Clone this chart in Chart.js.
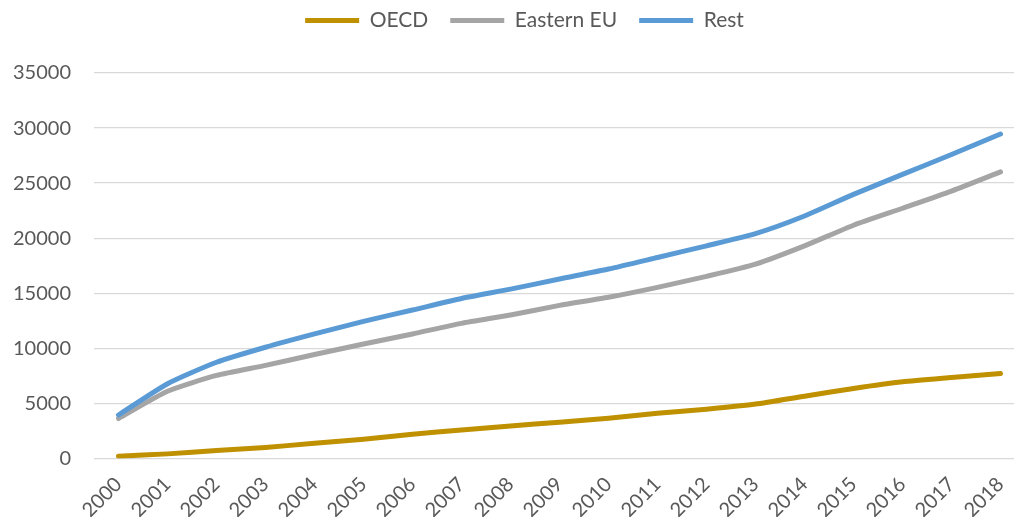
<!DOCTYPE html>
<html>
<head>
<meta charset="utf-8">
<script src="https://cdn.jsdelivr.net/npm/chart.js@4/dist/chart.umd.min.js"></script>
<style>
  html, body { margin: 0; padding: 0; background: #fff; overflow: hidden; }
  #wrap { width: 1050px; height: 517px; }
</style>
</head>
<body>
<div id="wrap"><canvas id="c" width="1050" height="517"></canvas></div>
<script>
// Years on the category axis
const years = ['2000','2001','2002','2003','2004','2005','2006','2007','2008','2009',
               '2010','2011','2012','2013','2014','2015','2016','2017','2018'];

// Series values
const oecd      = [200, 420, 720, 1000, 1390, 1750, 2200, 2590, 2950, 3300,
                   3650, 4100, 4480, 4940, 5660, 6360, 6960, 7350, 7720];
const easternEU = [3630, 6100, 7540, 8450, 9440, 10400, 11310, 12270, 13030, 13900,
                   14640, 15540, 16540, 17650, 19310, 21180, 22720, 24280, 26020];
const rest      = [3950, 6790, 8740, 10100, 11310, 12450, 13480, 14530, 15375, 16300,
                   17200, 18250, 19310, 20420, 22020, 23980, 25790, 27600, 29460];

// Value axis ticks
const yTicks = [0, 5000, 10000, 15000, 20000, 25000, 30000, 35000];

const FONT = 'Lato, "Open Sans", sans-serif';
const TEXT = '#595959';
const GRID = '#d9d9d9';

function series(label, data, color, order) {
  return {
    label, data, order,
    borderColor: color,
    backgroundColor: color,
    borderWidth: 5,
    borderCapStyle: 'round',
    borderJoinStyle: 'round',
    pointRadius: 0,
    pointHoverRadius: 0,
    pointStyle: 'line',
    tension: 0.2,
    fill: false
  };
}

// Leaves extra room under the legend row and nudges the row to the right
const legendGap = {
  id: 'legendGap',
  beforeLayout(chart) {
    const lg = chart.legend;
    if (lg && !lg._gapWrapped) {
      const fit = lg.fit.bind(lg);
      lg.fit = function () { fit(); this.height += 32; };
      const draw = lg.draw.bind(lg);
      lg.draw = function () {
        const ctx = this.ctx;
        ctx.save();
        ctx.translate(12, 0);
        draw();
        ctx.restore();
      };
      lg._gapWrapped = true;
    }
  }
};

new Chart(document.getElementById('c'), {
  type: 'line',
  data: {
    labels: years,
    datasets: [
      series('OECD', oecd, '#bf9000', 3),
      series('Eastern EU', easternEU, '#a5a5a5', 2),
      series('Rest', rest, '#5b9bd5', 1)
    ]
  },
  plugins: [legendGap],
  options: {
    responsive: false,
    animation: false,
    devicePixelRatio: 1,
    layout: { padding: { top: -12, left: 0, right: 25, bottom: 0 } },
    plugins: {
      legend: {
        position: 'top',
        labels: {
          usePointStyle: true,
          pointStyleWidth: 54,
          padding: 22,
          color: TEXT,
          font: { family: FONT, size: 21 },
          sort: (a, b) => a.datasetIndex - b.datasetIndex
        }
      },
      tooltip: { enabled: false }
    },
    scales: {
      x: {
        offset: true,
        grid: { display: false },
        border: { display: false },
        afterFit: (s) => { s.height = 58.5; },
        ticks: {
          autoSkip: false,
          minRotation: 45,
          maxRotation: 45,
          padding: 6,
          color: TEXT,
          font: { family: FONT, size: 20 }
        }
      },
      y: {
        min: 0,
        max: 35000,
        afterFit: (s) => { s.width = 94; },
        afterBuildTicks: (s) => { s.ticks = yTicks.map(v => ({ value: v })); },
        grid: { color: GRID, lineWidth: 1.3, drawTicks: false },
        border: { display: false },
        ticks: {
          padding: 23,
          color: TEXT,
          font: { family: FONT, size: 20 },
          callback: (v) => String(v)
        }
      }
    }
  }
});
</script>
</body>
</html>
